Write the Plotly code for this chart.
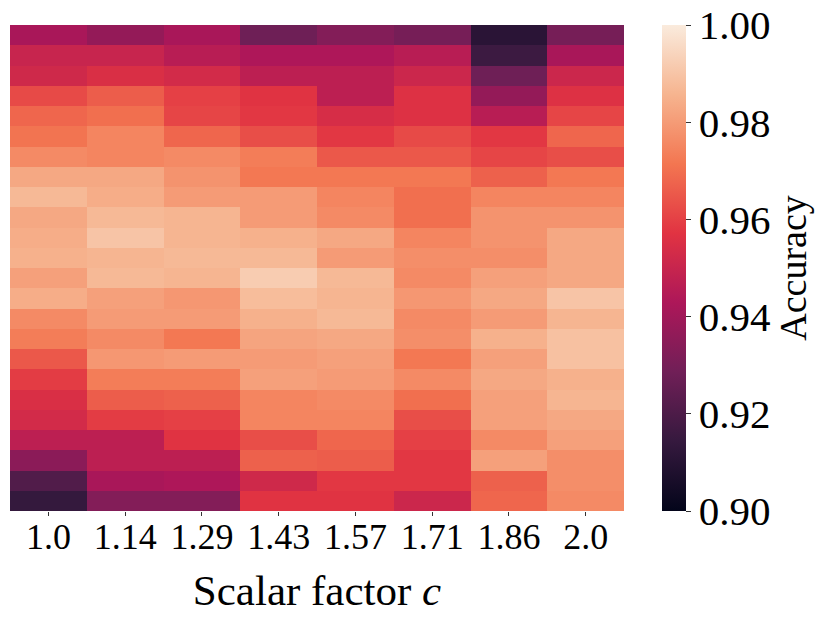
import plotly.graph_objects as go

# scalar factor c (x axis) and accuracy per cell, top row first
factor_labels = ["1.0", "1.14", "1.29", "1.43", "1.57", "1.71", "1.86", "2.0"]

acc_c100 = [0.942, 0.950, 0.952, 0.962, 0.968, 0.971, 0.976, 0.983, 0.987, 0.983, 0.984, 0.985,
            0.981, 0.984, 0.976, 0.973, 0.965, 0.959, 0.955, 0.953, 0.947, 0.935, 0.921, 0.914]
acc_c114 = [0.937, 0.950, 0.955, 0.966, 0.970, 0.975, 0.975, 0.983, 0.984, 0.987, 0.990, 0.986,
            0.987, 0.981, 0.980, 0.976, 0.979, 0.973, 0.966, 0.959, 0.947, 0.947, 0.942, 0.933]
acc_c129 = [0.942, 0.946, 0.953, 0.960, 0.961, 0.968, 0.976, 0.978, 0.980, 0.986, 0.986, 0.987,
            0.986, 0.979, 0.980, 0.972, 0.980, 0.973, 0.967, 0.960, 0.957, 0.947, 0.943, 0.933]
acc_c143 = [0.928, 0.943, 0.947, 0.957, 0.958, 0.963, 0.973, 0.972, 0.980, 0.980, 0.985, 0.987,
            0.992, 0.988, 0.985, 0.982, 0.980, 0.981, 0.975, 0.975, 0.963, 0.967, 0.952, 0.957]
acc_c157 = [0.933, 0.943, 0.947, 0.947, 0.954, 0.958, 0.965, 0.972, 0.975, 0.976, 0.983, 0.980,
            0.987, 0.986, 0.987, 0.983, 0.981, 0.980, 0.976, 0.975, 0.968, 0.966, 0.958, 0.957]
acc_c171 = [0.930, 0.946, 0.951, 0.956, 0.956, 0.962, 0.965, 0.972, 0.970, 0.970, 0.975, 0.977,
            0.976, 0.979, 0.976, 0.977, 0.972, 0.976, 0.970, 0.963, 0.960, 0.958, 0.958, 0.951]
acc_c186 = [0.911, 0.916, 0.928, 0.937, 0.946, 0.958, 0.961, 0.967, 0.975, 0.978, 0.978, 0.977,
            0.981, 0.983, 0.980, 0.985, 0.981, 0.983, 0.981, 0.981, 0.976, 0.981, 0.967, 0.968]
acc_c200 = [0.930, 0.942, 0.951, 0.956, 0.961, 0.968, 0.963, 0.972, 0.975, 0.978, 0.983, 0.983,
            0.983, 0.990, 0.986, 0.989, 0.989, 0.985, 0.986, 0.983, 0.981, 0.977, 0.977, 0.976]

columns = [acc_c100, acc_c114, acc_c129, acc_c143, acc_c157, acc_c171, acc_c186, acc_c200]
z = [list(row) for row in zip(*columns)]
row_ids = list(range(len(acc_c100)))

# seaborn "rocket"
rocket = [
    [0.0, "#03051a"],
    [1 / 7, "#35193e"],
    [2 / 7, "#701f57"],
    [3 / 7, "#ad1759"],
    [4 / 7, "#e13342"],
    [5 / 7, "#f37651"],
    [6 / 7, "#f6b48f"],
    [1.0, "#faebdd"],
]

font = "Liberation Serif"

fig = go.Figure(
    go.Heatmap(
        z=z,
        x=factor_labels,
        y=row_ids,
        zmin=0.90,
        zmax=1.00,
        colorscale=rocket,
        colorbar=dict(
            x=1.062,
            xanchor="left",
            xpad=0,
            y=0.5,
            ypad=0,
            len=1.0,
            lenmode="fraction",
            thickness=24,
            outlinewidth=0,
            tickvals=[0.90, 0.92, 0.94, 0.96, 0.98, 1.00],
            ticktext=["0.90", "0.92", "0.94", "0.96", "0.98", "1.00"],
            ticks="outside",
            ticklen=5,
            tickcolor="#333333",
            tickfont=dict(family=font, size=41, color="black"),
            title=dict(text="Accuracy", side="right", font=dict(family=font, size=38, color="black")),
        ),
    )
)

fig.update_layout(
    width=830,
    height=623,
    margin=dict(l=10, r=206, t=25, b=112, autoexpand=False),
    paper_bgcolor="white",
    plot_bgcolor="white",
    xaxis=dict(
        type="category",
        ticks="outside",
        ticklen=4,
        tickcolor="#333333",
        ticklabelstandoff=-10,
        tickfont=dict(family=font, size=36, color="black"),
        title=dict(text="Scalar factor <i>c</i>", font=dict(family=font, size=43, color="black"), standoff=18),
        showgrid=False,
        zeroline=False,
        showline=False,
    ),
    yaxis=dict(
        autorange="reversed",
        showticklabels=False,
        ticks="",
        showgrid=False,
        zeroline=False,
        showline=False,
    ),
)

fig.write_html(
    "out.html",
    config={"displayModeBar": False},
    post_script="document.body.style.margin = '0';",
)
